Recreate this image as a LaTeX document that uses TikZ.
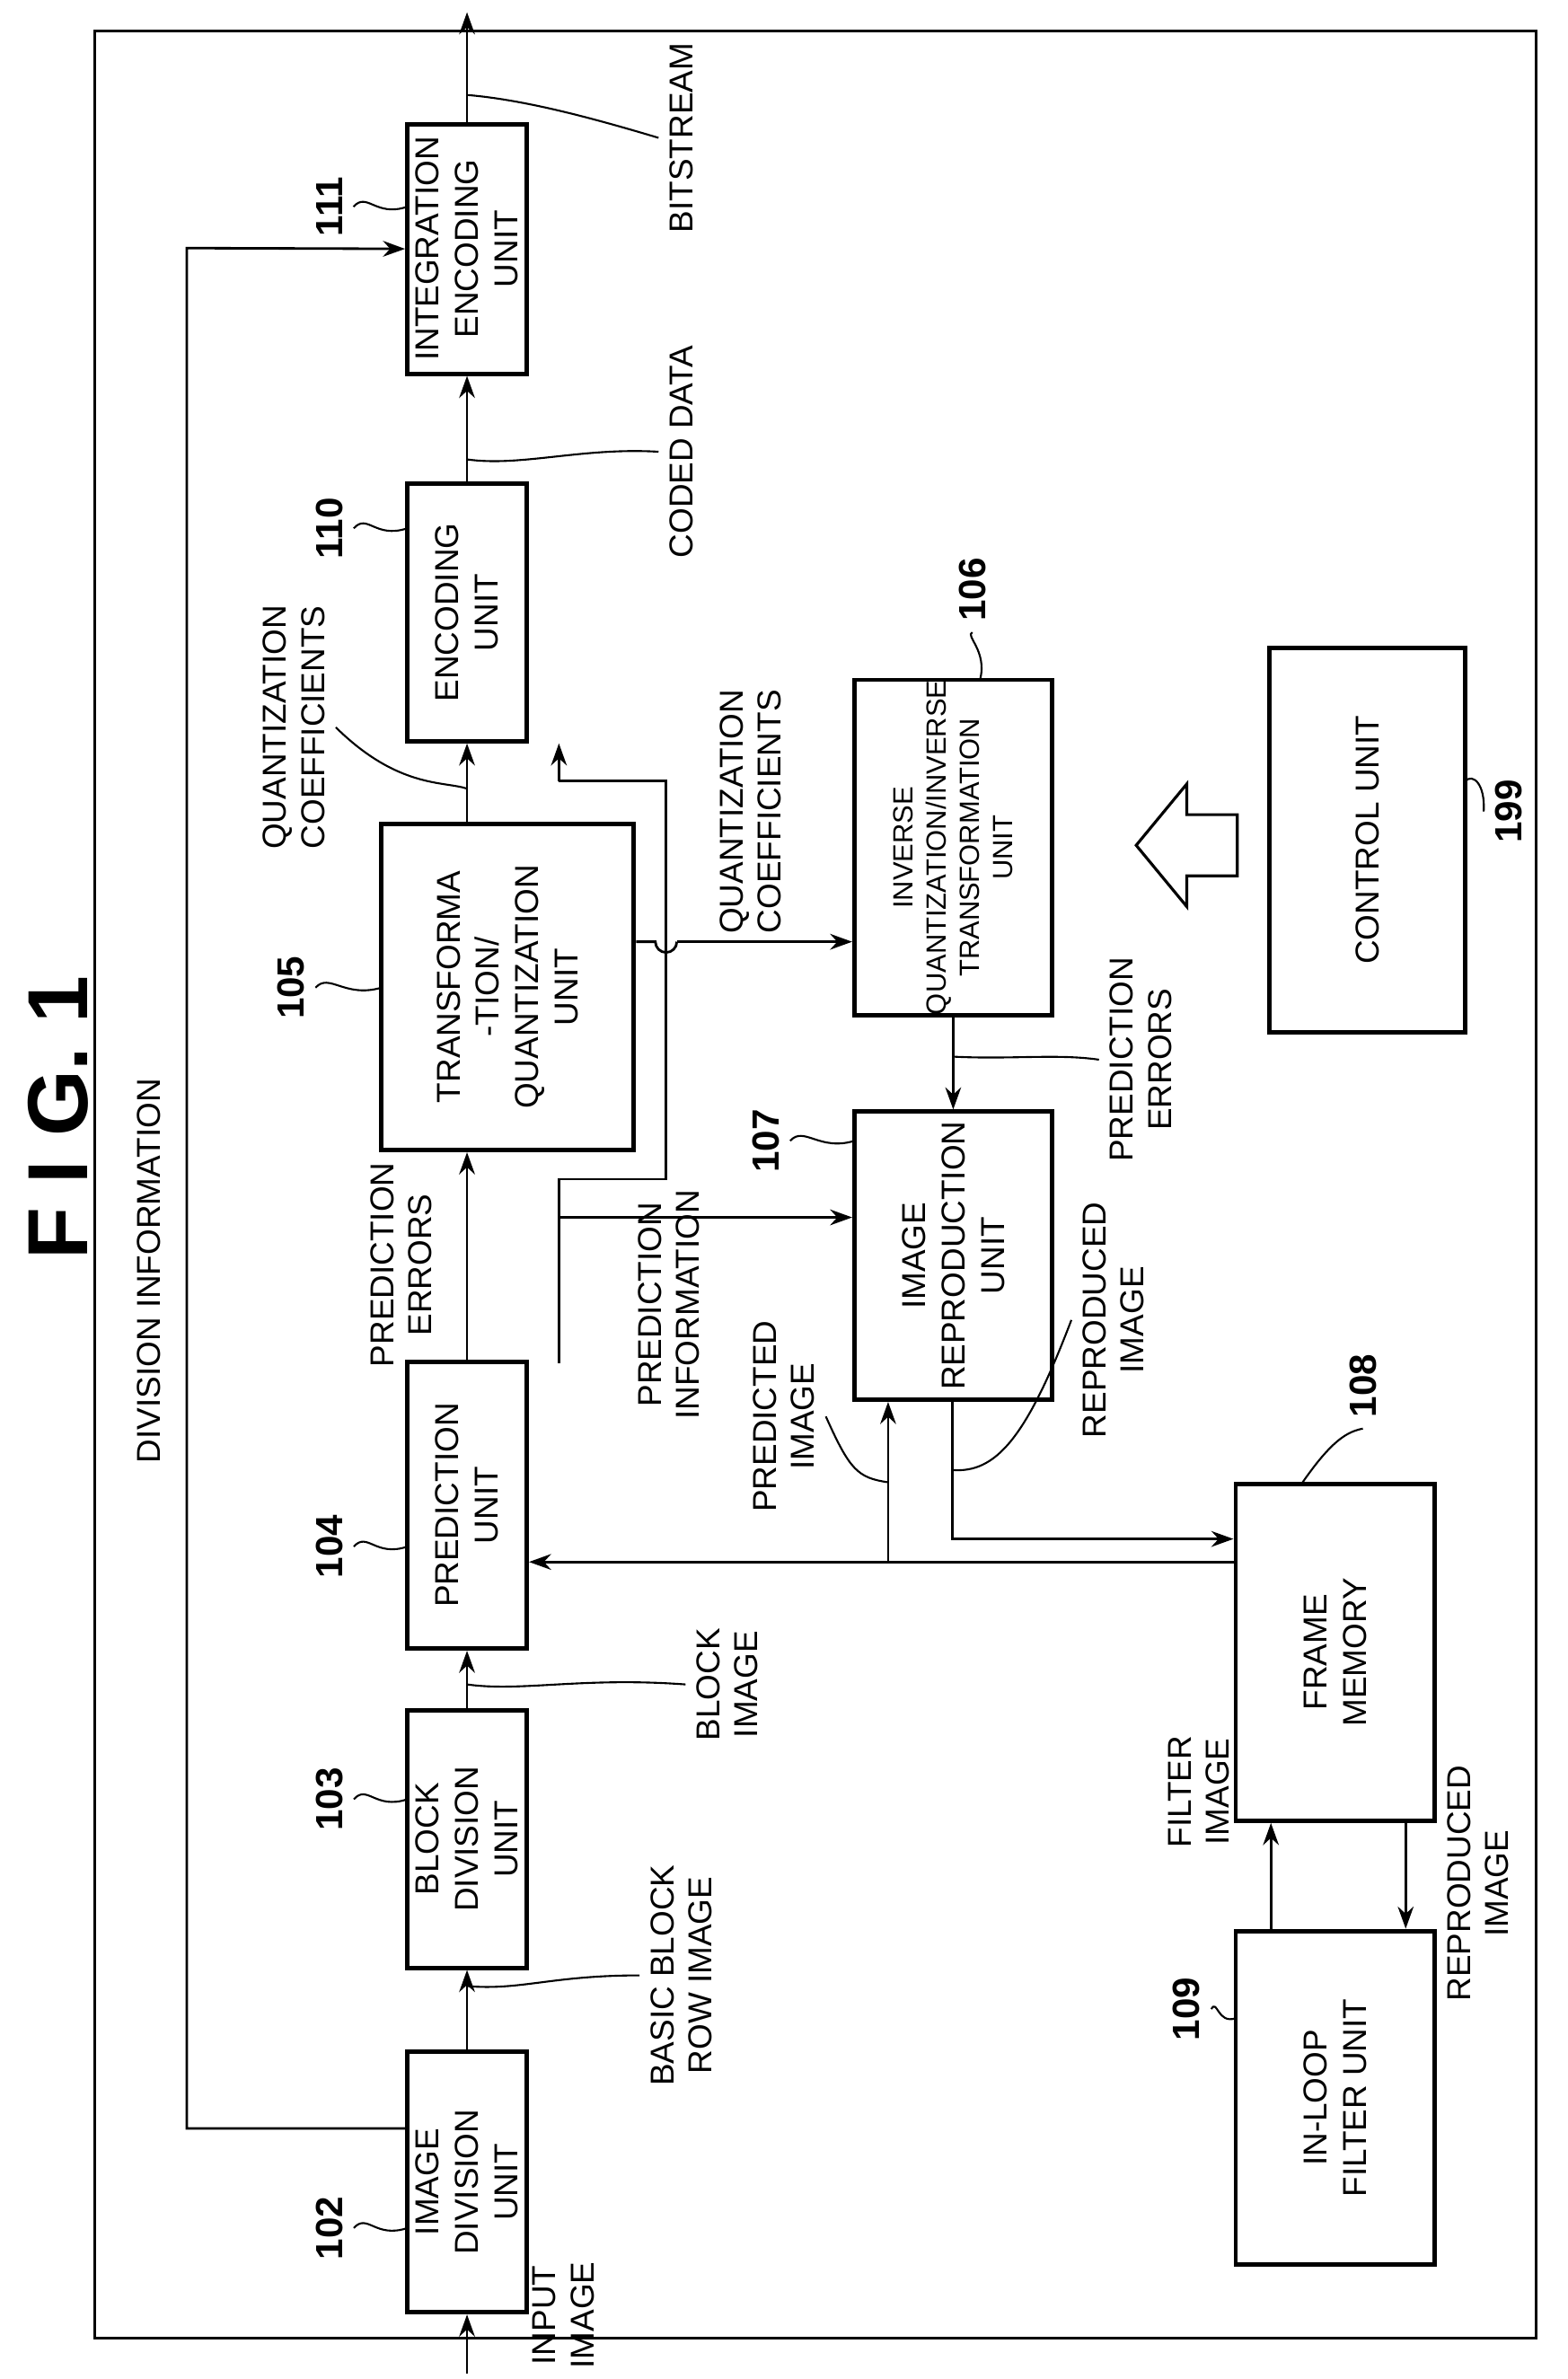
\documentclass[tikz,border=0pt]{standalone}
\usepackage{fontspec}
\setmainfont{Liberation Sans}
\usetikzlibrary{arrows.meta}
\begin{document}
\begin{tikzpicture}[x=0.01705cm,y=-0.01705cm,
  box/.style={draw,line width=1.4pt,rotate=90,align=center,inner sep=0pt,font=\fontsize{10.5}{12.5}\selectfont},
  lbl/.style={rotate=90,align=center,font=\fontsize{10.5}{12}\selectfont},
  num/.style={rotate=90,font=\fontsize{12}{14}\selectfont\bfseries},
  arr/.style={-{Stealth[length=7pt,width=5pt]},line width=0.8pt},
  ln/.style={line width=0.8pt},
  ld/.style={line width=0.6pt}]
\useasboundingbox (0,0) rectangle (1024,1553.6);
\draw[line width=0.8pt] (62,20) rectangle (1003,1527);
\node[rotate=90,font=\fontsize{27}{30}\selectfont\bfseries] (title) at (38,730) {F I G. 1};
\node[lbl] (divinfo) at (97,830) {DIVISION INFORMATION};
\node[box,minimum width=170*0.4851pt,minimum height=78*0.4851pt] (b102) at (305,1425) {IMAGE\\DIVISION\\UNIT};
\node[box,minimum width=168*0.4851pt,minimum height=78*0.4851pt] (b103) at (305,1201) {BLOCK\\DIVISION\\UNIT};
\node[box,minimum width=187*0.4851pt,minimum height=78*0.4851pt] (b104) at (305,983) {PREDICTION\\UNIT};
\node[box,minimum width=213*0.4851pt,minimum height=165*0.4851pt] (b105) at (331.5,644.5) {TRANSFORMA\\-TION/\\QUANTIZATION\\UNIT};
\node[box,minimum width=168*0.4851pt,minimum height=78*0.4851pt] (b110) at (305,400) {ENCODING\\UNIT};
\node[box,minimum width=163*0.4851pt,minimum height=78*0.4851pt] (b111) at (305,162.5) {INTEGRATION\\ENCODING\\UNIT};
\node[box,minimum width=219*0.4851pt,minimum height=129*0.4851pt,font=\fontsize{8.8}{10.5}\selectfont] (b106) at (622.5,553.5) {INVERSE\\QUANTIZATION/INVERSE\\TRANSFORMATION\\UNIT};
\node[box,minimum width=188*0.4851pt,minimum height=129*0.4851pt] (b107) at (622.5,820) {IMAGE\\REPRODUCTION\\UNIT};
\node[box,minimum width=251*0.4851pt,minimum height=128*0.4851pt] (b199) at (893,548.5) {CONTROL UNIT};
\node[box,minimum width=220*0.4851pt,minimum height=130*0.4851pt] (b108) at (872,1079) {FRAME\\MEMORY};
\node[box,minimum width=218*0.4851pt,minimum height=130*0.4851pt] (b109) at (872,1370) {IN-LOOP\\FILTER UNIT};
% hollow arrow
\draw[line width=0.9pt] (742,552) -- (775,512) -- (775,532) -- (808,532) -- (808,572) -- (775,572) -- (775,592) -- cycle;
% numerals
\node[num] (n102) at (215,1455) {102};
\node[num] (n103) at (215,1175) {103};
\node[num] (n104) at (215,1010) {104};
\node[num] (n105) at (190,645) {105};
\node[num] (n110) at (215,345) {110};
\node[num] (n111) at (215,135) {111};
\node[num] (n106) at (635,385) {106};
\node[num] (n107) at (500,745) {107};
\node[num] (n108) at (890,905) {108};
\node[num] (n109) at (775,1312) {109};
\node[num] (n199) at (985,530) {199};
\draw[ld] (n102.south) .. controls (240,1445) and (245,1462) .. (266,1455);
\draw[ld] (n103.south) .. controls (240,1165) and (245,1182) .. (266,1175);
\draw[ld] (n104.south) .. controls (240,1000) and (245,1017) .. (266,1010);
\draw[ld] (n105.south) .. controls (215,635) and (225,652) .. (249,645);
\draw[ld] (n110.south) .. controls (240,335) and (245,352) .. (266,345);
\draw[ld] (n111.south) .. controls (240,125) and (245,142) .. (266,135);
\draw[ld] (n106.west) .. controls (630,415) and (645,425) .. (640,444);
\draw[ld] (n107.south) .. controls (525,735) and (535,752) .. (558,745);
\draw[ld] (n108.west) .. controls (880,935) and (870,940) .. (850,969);
\draw[ld] (n109.south) .. controls (795,1305) and (795,1322) .. (807,1318);
\draw[ld] (n199.north) .. controls (970,512) and (962,505) .. (957,510);
% main flow
\coordinate (inp) at (305,1550);
\draw[arr] (inp) -- (b102.west);
\draw[arr] (b102.east) -- (b103.west);
\draw[arr] (b103.east) -- (b104.west);
\draw[arr] (b104.east) -- (b105.west -| b104.east);
\draw[arr] (b105.east -| b110.west) -- (b110.west);
\draw[arr] (b110.east) -- (b111.west);
\coordinate (outp) at (305,8);
\draw[arr] (b111.east) -- (outp);
\draw[arr] (b102.north |- 0,1390) -| (122,162) -- (b111.north);
\draw[ln] (365,890) -- (365,770) -- (435,770) -- (435,510) -- (365,510);
\draw[arr] (365,510) -- (b110.west -| 365,0);
\draw[arr] (365,795) -- (b107.north |- 0,795);
\draw[ln] (b105.south |- 0,615) -- (428,615) arc[start angle=180,end angle=0,radius=7];
\draw[arr] (442,615) -- (b106.north |- 0,615);
\draw[arr] (b106.west) -- (b107.east);
\draw[arr] (b107.west -| 622,0) -- (622,1005) -- (b108.north |- 0,1005);
\draw[arr] (b108.north |- 0,1020) -- (b104.south |- 0,1020);
\draw[arr] (580,1020) -- (b107.west -| 580,0);
\draw[arr] (b109.east -| 830,0) -- (b108.west -| 830,0);
\draw[arr] (b108.west -| 918,0) -- (b109.east -| 918,0);
% labels
\node[lbl] (l1) at (368,1512) {INPUT\\IMAGE};
\node[lbl] (l2) at (445,1290) {BASIC BLOCK\\ROW IMAGE};
\node[lbl] (l3) at (475,1100) {BLOCK\\IMAGE};
\node[lbl] (l4) at (262,826) {PREDICTION\\ERRORS};
\node[lbl] (l5) at (192,475) {QUANTIZATION\\COEFFICIENTS};
\node[lbl] (l6) at (490,530) {QUANTIZATION\\COEFFICIENTS};
\node[lbl] (l7) at (445,295) {CODED DATA};
\node[lbl] (l8) at (445,90) {BITSTREAM};
\node[lbl] (l9) at (437,852) {PREDICTION\\INFORMATION};
\node[lbl] (l10) at (512,925) {PREDICTED\\IMAGE};
\node[lbl] (l11) at (745,692) {PREDICTION\\ERRORS};
\node[lbl] (l12) at (727,862) {REPRODUCED\\IMAGE};
\node[lbl] (l13) at (783,1170) {FILTER\\IMAGE};
\node[lbl] (l14) at (965,1230) {REPRODUCED\\IMAGE};
\draw[ld] (305,1297) .. controls (340,1300) and (360,1290) .. (l2.north);
\draw[ld] (305,1100) .. controls (340,1105) and (380,1095) .. (l3.north);
\draw[ld] (l5.south) .. controls (260,515) and (290,510) .. (305,515);
\draw[ld] (305,300) .. controls (340,305) and (380,292) .. (l7.north);
\draw[ld] (305,62) .. controls (340,65) and (380,75) .. (l8.north);
\draw[ld] (580,968) .. controls (560,965) and (555,960) .. (l10.south);
\draw[ld] (622,690) .. controls (660,692) and (690,688) .. (l11.north);
\draw[ld] (622,960) .. controls (650,962) and (670,940) .. (l12.north);
\end{tikzpicture}
\end{document}
